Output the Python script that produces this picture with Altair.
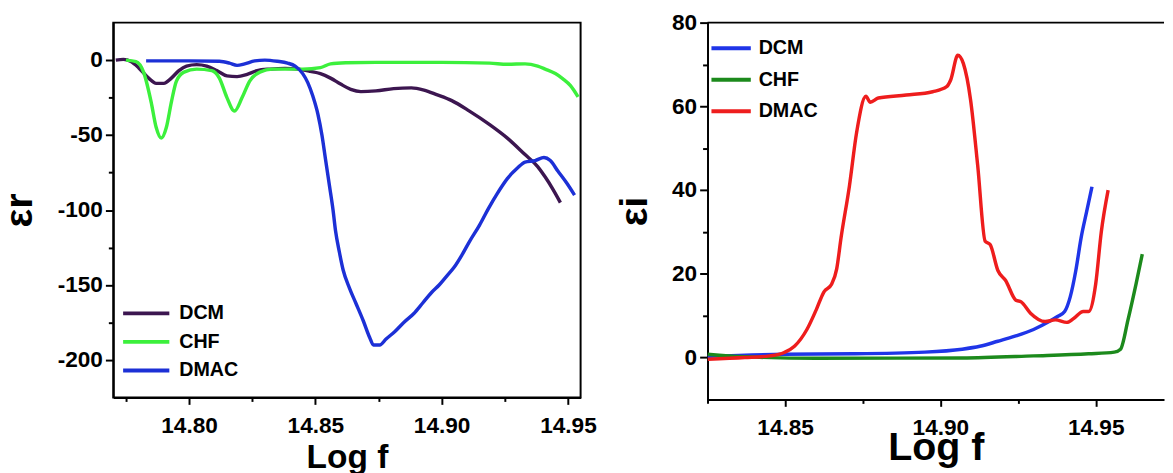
import altair as alt
import pandas as pd

# ---------------- Left panel (epsilon r) ----------------
l_dcm_x = [14.771, 14.774, 14.777, 14.780, 14.784, 14.787, 14.790, 14.793, 14.796, 14.799,
           14.803, 14.807, 14.811, 14.815, 14.819, 14.823, 14.827, 14.832, 14.838, 14.843,
           14.848, 14.852, 14.856, 14.860, 14.864, 14.868, 14.874, 14.881, 14.888, 14.893,
           14.898, 14.904, 14.911, 14.919, 14.926, 14.933, 14.938, 14.941, 14.944, 14.947]
l_dcm_y = [0, 0.5, -1, -5, -12, -15.5, -15.5, -12, -7, -4,
           -3, -4, -7, -10.5, -11, -9.5, -7, -6, -5.5, -6,
           -7.5, -9, -12, -16, -19.5, -21, -20.5, -19, -18.5, -20,
           -23, -27, -34, -43, -52, -63, -71, -78, -86, -95]

l_chf_x = [14.775, 14.779, 14.782, 14.785, 14.787, 14.789, 14.791, 14.793, 14.795, 14.798,
           14.803, 14.809, 14.812, 14.815, 14.818, 14.821, 14.824, 14.828, 14.833, 14.845,
           14.852, 14.856, 14.862, 14.874, 14.900, 14.919, 14.926, 14.933, 14.938, 14.941,
           14.945, 14.948, 14.951, 14.954]
l_chf_y = [0, -1, -8, -28, -45, -52, -45, -28, -14, -8,
           -6, -7, -12, -25, -34, -25, -14, -8, -6, -6,
           -5, -2.5, -1.8, -1.5, -1.5, -2, -2.8, -2.5, -4, -6,
           -9, -12.5, -17, -24.5]

l_dmac_x = [14.783, 14.800, 14.812, 14.816, 14.819, 14.822, 14.826, 14.830, 14.835, 14.839,
            14.842, 14.845, 14.847, 14.849, 14.851, 14.8526, 14.854, 14.8556, 14.857, 14.858,
            14.8595, 14.861, 14.8635, 14.866, 14.869, 14.8715, 14.873, 14.8755, 14.878, 14.8815,
            14.885, 14.889, 14.8925, 14.896, 14.899, 14.902, 14.905, 14.908, 14.911, 14.915,
            14.9185, 14.922, 14.926, 14.930, 14.933, 14.937, 14.9405, 14.943, 14.946, 14.9495,
            14.9526]
l_dmac_y = [-0.5, -0.5, -0.8, -2, -3.5, -2.5, -0.5, 0, -0.8, -2,
            -4, -9, -15, -24, -36, -50, -66, -84, -100, -114,
            -128, -140, -152, -162, -174, -185, -190, -190, -186, -181,
            -175, -169, -162, -155, -150, -144, -138, -130, -121, -110,
            -99, -89, -79, -72, -68, -67, -65, -67, -74, -82,
            -90]

# ---------------- Right panel (epsilon i) ----------------
r_dcm_x = [14.825, 14.8497, 14.872, 14.895, 14.907, 14.9127, 14.9185, 14.924, 14.930, 14.935,
           14.9377, 14.940, 14.9418, 14.9436, 14.9453, 14.9471, 14.9488]
r_dcm_y = [0.3, 0.8, 0.9, 1.3, 2, 2.7, 3.9, 5.1, 6.7, 8.6,
           9.8, 11, 14.5, 20.8, 28.6, 34.9, 40.8]

r_chf_x = [14.825, 14.837, 14.860, 14.907, 14.930, 14.9477, 14.956, 14.958, 14.9604, 14.963,
           14.965]
r_chf_y = [0.8, 0.2, -0.15, -0.1, 0.4, 0.9, 1.3, 2, 9, 17.6,
           24.7]

r_dmac_x = [14.825, 14.837, 14.845, 14.8497, 14.853, 14.857, 14.860, 14.8625, 14.865, 14.8666,
            14.868, 14.8707, 14.873, 14.876, 14.8774, 14.880, 14.889, 14.8975, 14.902, 14.9033,
            14.9056, 14.9074, 14.9097, 14.912, 14.9144, 14.916, 14.9185, 14.921, 14.9243, 14.926,
            14.929, 14.9337, 14.937, 14.9407, 14.943, 14.946, 14.9477, 14.950, 14.9518, 14.954]
r_dmac_y = [-0.4, 0, 0.4, 1.2, 2.7, 6.7, 11.4, 15.7, 17.6, 21.2,
            28.6, 41, 53.7, 62.4, 61, 62, 62.7, 63.5, 64.7, 66.3,
            72.2, 70.2, 61.6, 45.9, 27.8, 27, 20.8, 18.4, 13.7, 13.3,
            10.6, 8.6, 9, 8.4, 9.4, 11, 11, 17.6, 30, 40]

series = ["DCM", "CHF", "DMAC"]
left_colors = ["#3c1650", "#3cf03c", "#1c30d6"]
right_colors = ["#1f35e8", "#1c8a1c", "#ee1d1d"]

left_x_ticks = [14.775, 14.80, 14.825, 14.85, 14.875, 14.90, 14.925, 14.95]
left_y_ticks = [-200, -175, -150, -125, -100, -75, -50, -25, 0]
right_x_ticks = [14.825, 14.85, 14.875, 14.90, 14.925, 14.95]
right_y_ticks = [0, 10, 20, 30, 40, 50, 60, 70, 80]
right_y_max = 80


def frame(xs, ys, name):
    return pd.DataFrame({"f": xs, "v": ys, "s": name, "o": range(len(xs))})


left_df = pd.concat([frame(l_dcm_x, l_dcm_y, "DCM"),
                     frame(l_chf_x, l_chf_y, "CHF"),
                     frame(l_dmac_x, l_dmac_y, "DMAC")])
right_df = pd.concat([frame(r_dcm_x, r_dcm_y, "DCM"),
                      frame(r_chf_x, r_chf_y, "CHF"),
                      frame(r_dmac_x, r_dmac_y, "DMAC")])

FONT = "Liberation Sans"
x_major = "abs(datum.value*20 - round(datum.value*20)) < 0.001"
LINE_SYMBOL = "M-2.5,0H2.5"


def x_axis(vals, title_size, title_pad):
    return alt.Axis(values=vals, title="Log f", titleFontSize=title_size,
                    titlePadding=title_pad, labelPadding=11,
                    labelExpr=f"{x_major} ? format(datum.value, '.2f') : ''",
                    tickSize={"condition": {"test": x_major, "value": 7}, "value": 4},
                    grid=False)


def y_axis(vals, title, step, title_pad):
    test = f"datum.value % {step} == 0"
    return alt.Axis(values=vals, title=title, titleFontSize=40, titlePadding=title_pad,
                    labelExpr=f"{test} ? (datum.value + '') : ''",
                    tickSize={"condition": {"test": test, "value": 8}, "value": 5},
                    grid=False)


left = alt.Chart(left_df).mark_line(strokeWidth=3.5, clip=True, interpolate="monotone").encode(
    x=alt.X("f:Q", scale=alt.Scale(domain=[14.770, 14.955], nice=False, zero=False),
            axis=x_axis(left_x_ticks, 34, 3)),
    y=alt.Y("v:Q", scale=alt.Scale(domain=[-225, 25], nice=False, zero=False),
            axis=y_axis(left_y_ticks, "εr", 50, 18)),
    color=alt.Color("s:N", scale=alt.Scale(domain=series, range=left_colors),
                    legend=alt.Legend(title=None, orient="none", legendX=22, legendY=284,
                                      symbolType=LINE_SYMBOL, symbolSize=353,
                                      symbolStrokeWidth=4, labelOffset=22,
                                      rowPadding=7, padding=0, labelFontSize=20)),
    order="o:Q",
).properties(width=475, height=381)

right_lines = alt.Chart(right_df).mark_line(strokeWidth=3.5, clip=True, interpolate="monotone").encode(
    x=alt.X("f:Q", scale=alt.Scale(domain=[14.825, 14.972], nice=False, zero=False),
            axis=x_axis(right_x_ticks, 40, -12)),
    y=alt.Y("v:Q", scale=alt.Scale(domain=[-10, 80], nice=False, zero=False),
            axis=y_axis(right_y_ticks, "εi", 20, 17)),
    color=alt.Color("s:N", scale=alt.Scale(domain=series, range=right_colors),
                    legend=alt.Legend(title=None, orient="none", legendX=2, legendY=4,
                                      symbolType="stroke", symbolSize=1600,
                                      symbolStrokeWidth=4, labelOffset=6,
                                      rowPadding=-16, padding=0, labelFontSize=20)),
    order="o:Q",
)
right_top = alt.Chart(pd.DataFrame({"v": [right_y_max]})).mark_rule(
    color="black", strokeWidth=2
).encode(y="v:Q")

right = alt.layer(right_lines, right_top).properties(
    width=464, height=383, view=alt.ViewBackground(stroke=None)
)

chart = alt.hconcat(left, right, spacing=18).resolve_scale(color="independent").properties(
    padding={"left": -10, "top": 0, "right": 0, "bottom": 0}
).configure(font=FONT).configure_view(
    stroke="black", strokeWidth=2
).configure_axis(
    labelFont=FONT, labelFontWeight="bold", labelFontSize=23, labelColor="black",
    titleFont=FONT, titleFontWeight="bold", titleColor="black",
    domainColor="black", domainWidth=2, tickColor="black", tickWidth=2,
    labelPadding=3,
).configure_legend(
    labelFont=FONT, labelFontWeight="bold", labelColor="black",
)

chart.save("out.html", embed_options={"renderer": "svg", "actions": False})
